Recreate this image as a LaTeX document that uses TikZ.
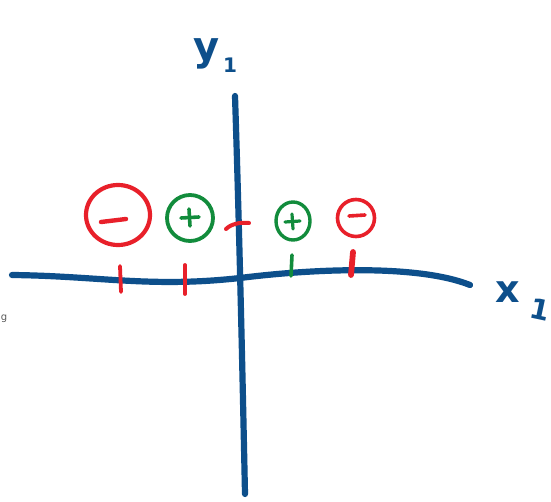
\documentclass[tikz,border=0pt]{standalone}
\usepackage{fontspec}
\setsansfont{DejaVu Sans}
\usetikzlibrary{shapes.geometric,calc}
\definecolor{axblue}{HTML}{0D4F8B}
\definecolor{pred}{HTML}{E8202A}
\definecolor{pgreen}{HTML}{128C3C}
\begin{document}
\begin{tikzpicture}[x=1pt,y=-1pt,line cap=round,line join=round,
  axis/.style={draw=axblue,line width=6.2pt},
  redstroke/.style={draw=pred,line width=3.8pt},
  greenstroke/.style={draw=pgreen,line width=3.6pt},
  lbl/.style={text=axblue,font=\sffamily,inner sep=0pt}]
\useasboundingbox (0,0) rectangle (551,502);
\fill[white] (0,0) rectangle (551,502);
% axes
\coordinate (ytop) at (235,96);
\coordinate (ybot) at (245,494);
\draw[axis] (ytop) .. controls (240,250) and (243,400) .. (ybot);
\coordinate (xl) at (12,275);
\coordinate (xr) at (470,285);
\draw[axis] (xl) .. controls (100,276) and (150,288) .. (240,278)
  .. controls (320,268) and (420,265) .. (xr);
% axis labels
\node[lbl,font=\sffamily\bfseries\fontsize{40}{40}\selectfont] (ylab) at (207,54) {y};
\node[lbl,font=\sffamily\bfseries\fontsize{20}{20}\selectfont] (yone) at (230,65) {1};
\node[lbl,font=\sffamily\bfseries\fontsize{38}{38}\selectfont] (xlab) at (508,292) {x};
\node[lbl,font=\sffamily\bfseries\fontsize{28}{28}\selectfont,rotate=-12] (xone) at (540,310) {1};
\node[text=gray!70!black,font=\sffamily\fontsize{10}{10}\selectfont,inner sep=0pt] (gfrag) at (4,319) {g};
% ticks
\coordinate (t1a) at (120,266); \coordinate (t1b) at (121,292);
\draw[redstroke] (t1a) -- (t1b);
\coordinate (t2a) at (185,265); \coordinate (t2b) at (185,294);
\draw[redstroke] (t2a) -- (t2b);
\coordinate (t3a) at (292,255); \coordinate (t3b) at (291,276);
\draw[greenstroke] (t3a) -- (t3b);
\coordinate (t4a) at (353,252); \coordinate (t4b) at (351,275);
\draw[redstroke,line width=5.8pt] (t4a) -- (t4b);
% dash near y axis
\coordinate (d1) at (226,229); \coordinate (d2) at (249,223);
\draw[redstroke,line width=4pt] (d1) .. controls (231,224) and (240,222) .. (d2);
% sign circles
\node[draw=pred,line width=4.2pt,ellipse,minimum width=64pt,minimum height=60pt,inner sep=0pt] (c1) at (118,215) {};
\draw[redstroke,line width=4.4pt] ($(c1)+(-17,7)$) -- ($(c1)+(8,4)$);
\node[draw=pgreen,line width=3.8pt,circle,minimum size=46pt,inner sep=0pt] (c2) at (190,218) {};
\draw[greenstroke] ($(c2)+(-9,0)$) -- ($(c2)+(9,-1)$);
\draw[greenstroke] ($(c2)+(-1,-9)$) -- ($(c2)+(0,8)$);
\node[draw=pgreen,line width=3.4pt,ellipse,minimum width=34pt,minimum height=38pt,inner sep=0pt] (c3) at (293,221) {};
\draw[greenstroke,line width=3.2pt] ($(c3)+(-8,1)$) -- ($(c3)+(7,0)$);
\draw[greenstroke,line width=3.2pt] ($(c3)+(-1,-7)$) -- ($(c3)+(0,8)$);
\node[draw=pred,line width=3.6pt,circle,minimum size=37pt,inner sep=0pt] (c4) at (356,218) {};
\draw[redstroke,line width=3.6pt] ($(c4)+(-7,-2)$) -- ($(c4)+(9,-3)$);
\end{tikzpicture}
\end{document}
